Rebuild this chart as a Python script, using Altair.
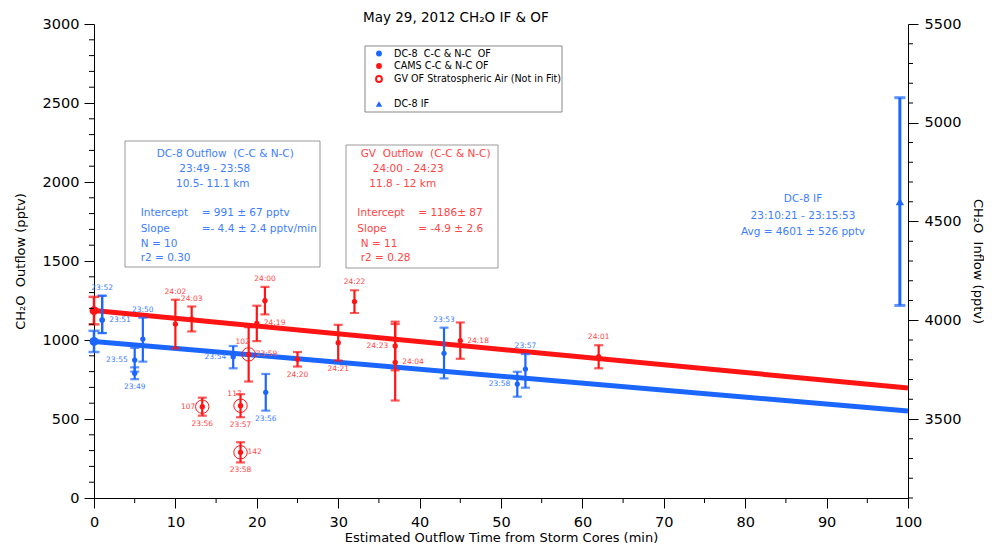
import altair as alt
import pandas as pd

# ---------------- data ----------------
dc8_labels = ["23:52", "23:51", "23:55", "23:49", "23:50", "23:54", "23:56", "23:53", "23:58", "23:57"]
dc8_time = [1, 1, 5, 5, 6, 17.1, 21.1, 43, 52, 53]
dc8_val = [1127, 1127, 873, 789, 1006, 894, 669, 916, 721, 816]
dc8_lo = [1044, 1044, 800, 752, 863, 821, 553, 757, 641, 698]
dc8_hi = [1280, 1280, 950, 827, 1141, 962, 785, 1078, 799, 911]
dc8_side = ["above", "right", "left", "below", "above", "left", "below", "above", "left", "above"]

gv_labels = ["24:02", "24:03", "24:00", "24:19", "24:20", "24:21", "24:22", "24:23", "24:04", "24:18", "24:01"]
gv_time = [10, 12, 21, 20, 25, 30, 32, 37, 37, 45, 62]
gv_val = [1101, 1133, 1249, 1105, 878, 983, 1243, 962, 859, 996, 894]
gv_err = [154, 79, 87, 112, 46, 113, 72, 154, 242, 115, 73]
gv_side = ["above", "above", "above", "right", "below", "below", "above", "left", "right", "right", "above"]

strat_labels = ["23:59", "23:56", "23:57", "23:58"]
strat_time = [19, 13.3, 18, 18]
strat_val = [909, 578, 584, 289]
strat_err = [172, 57, 73, 64]
strat_side = ["right", "below", "below", "below"]
strat_num = ["102", "107", "117", "142"]
strat_num_side = ["upleft", "left", "upleft", "right"]

fit_names = ["DC-8", "GV"]
fit_intercept = [991, 1186]
fit_int_err = [67, 87]
fit_slope = [-4.4, -4.9]
fit_x = [0, 100]

if_time = [99]
if_val = [4601]
if_err = [526]

legend_labels = ["DC-8  C-C & N-C  OF", "CAMS C-C & N-C OF", "GV OF Stratospheric Air (Not in Fit)", "DC-8 IF"]

# ---------------- styling ----------------
BLUE = "#1A66FF"
RED = "#FF1414"
BLUE_T = "#3D7EFF"
RED_T = "#FF4646"
FONT = "DejaVu Sans"
W, H = 814, 474
NB = "\u00a0"


def keep_spaces(s):
    return s.replace("  ", NB + NB)


xs = alt.Scale(domain=[0, 100], nice=False, zero=False)
ys = alt.Scale(domain=[0, 3000], nice=False, zero=False)
ys2 = alt.Scale(domain=[3100, 5500], nice=False, zero=False)

common_axis = dict(grid=False, domainColor="black", tickColor="black", labelColor="black",
                   titleColor="black", labelFont=FONT, titleFont=FONT, titleFontWeight="normal",
                   labelFontSize=14.5, titleFontSize=13, tickSize=10, domainWidth=1, tickWidth=1,
                   format="d", labelFlush=False, labelOverlap=False)

x_axis = alt.Axis(values=list(range(0, 101, 10)), title="Estimated Outflow Time from Storm Cores (min)",
                  labelPadding=7, titlePadding=3, orient="bottom", **common_axis)
y_axis = alt.Axis(values=list(range(0, 3001, 500)), title=keep_spaces("CH₂O  Outflow (pptv)"),
                  labelPadding=5, orient="left",
                  titleX=-74, titleY=H / 2, titleAngle=270, titleBaseline="middle", titleAlign="center",
                  **common_axis)
y2_axis = alt.Axis(values=list(range(3500, 5501, 500)), title=keep_spaces("CH₂O  Inflow (pptv)"),
                   orient="right",
                   labelPadding=6, titleX=69, titleY=H / 2, titleAngle=90, titleBaseline="middle",
                   titleAlign="center", **common_axis)


def X(field="t", axis=None):
    return alt.X(f"{field}:Q", scale=xs, axis=axis)


def Y(field="v", axis=None, scale=ys):
    return alt.Y(f"{field}:Q", scale=scale, axis=axis)


one = alt.Data(values=[{"a": 1}])


def txt(text, px, py, color, size=11, align="left"):
    return alt.Chart(one).mark_text(align=align, baseline="middle", font=FONT, fontSize=size,
                                    color=color).encode(x=alt.value(px), y=alt.value(py),
                                                        text=alt.value(keep_spaces(text)))


# ---------------- tables ----------------
dc8 = pd.DataFrame(dict(t=dc8_time, v=dc8_val, lo=dc8_lo, hi=dc8_hi, lab=dc8_labels, side=dc8_side))
gv = pd.DataFrame(dict(t=gv_time, v=gv_val, lab=gv_labels, side=gv_side))
gv["lo"] = [v - e for v, e in zip(gv_val, gv_err)]
gv["hi"] = [v + e for v, e in zip(gv_val, gv_err)]
st = pd.DataFrame(dict(t=strat_time, v=strat_val, lab=strat_labels, side=strat_side,
                       num=strat_num, nside=strat_num_side))
st["lo"] = [v - e for v, e in zip(strat_val, strat_err)]
st["hi"] = [v + e for v, e in zip(strat_val, strat_err)]

fit_rows = []
for n, b, m in zip(fit_names, fit_intercept, fit_slope):
    for x in fit_x:
        fit_rows.append(dict(name=n, t=x, v=b + m * x))
fit = pd.DataFrame(fit_rows)
icpt = pd.DataFrame(dict(name=fit_names, t=[0, 0], v=fit_intercept))
icpt["lo"] = [b - e for b, e in zip(fit_intercept, fit_int_err)]
icpt["hi"] = [b + e for b, e in zip(fit_intercept, fit_int_err)]

inf = pd.DataFrame(dict(t=if_time, v=if_val))
inf["lo"] = [v - e for v, e in zip(if_val, if_err)]
inf["hi"] = [v + e for v, e in zip(if_val, if_err)]

# ---------------- layers ----------------
layers = []

# regression lines (carry the x axis and the left y axis)
for n, col in zip(fit_names, [BLUE, RED]):
    ax = x_axis if n == fit_names[0] else None
    yax = y_axis if n == fit_names[0] else None
    layers.append(alt.Chart(fit[fit.name == n]).mark_line(color=col, strokeWidth=5)
                  .encode(x=X(axis=ax), y=Y(axis=yax)))

# right axis + inflow point
layers += [
    alt.Chart(inf).mark_rule(color=BLUE, strokeWidth=3).encode(x=X(), y=Y("lo", y2_axis, ys2), y2="hi:Q"),
    alt.Chart(inf).mark_tick(color=BLUE, orient="horizontal", size=11, thickness=3)
    .encode(x=X(), y=Y("lo", None, ys2)),
    alt.Chart(inf).mark_tick(color=BLUE, orient="horizontal", size=11, thickness=3)
    .encode(x=X(), y=Y("hi", None, ys2)),
    alt.Chart(inf).mark_point(shape="triangle-up", filled=True, color=BLUE, size=70, opacity=1)
    .encode(x=X(), y=Y("v", None, ys2)),
]


def errbars(df, col, width=2.2, cap=9, dot=28):
    return [
        alt.Chart(df).mark_rule(color=col, strokeWidth=width).encode(x=X(), y=Y("lo"), y2="hi:Q"),
        alt.Chart(df).mark_tick(color=col, orient="horizontal", size=cap, thickness=width)
        .encode(x=X(), y=Y("lo")),
        alt.Chart(df).mark_tick(color=col, orient="horizontal", size=cap, thickness=width)
        .encode(x=X(), y=Y("hi")),
        alt.Chart(df).mark_circle(color=col, opacity=1, size=dot).encode(x=X(), y=Y()),
    ]


layers += errbars(dc8, BLUE)
layers += errbars(gv, RED)
layers += errbars(st, RED)
layers.append(alt.Chart(st).mark_point(shape="circle", filled=False, color=RED, size=180,
                                       strokeWidth=1, opacity=1).encode(x=X(), y=Y()))
layers += errbars(icpt[icpt.name == "DC-8"], BLUE, width=2.5, cap=11, dot=80)
layers += errbars(icpt[icpt.name == "GV"], RED, width=2.5, cap=11, dot=80)


def point_labels(df, col, textfield="lab", sidefield="side"):
    out = []
    spec = {
        "above": dict(y="hi", dx=0, dy=-8, align="center"),
        "below": dict(y="lo", dx=0, dy=8, align="center"),
        "left": dict(y="v", dx=-7, dy=0, align="right"),
        "right": dict(y="v", dx=7, dy=0, align="left"),
        "upleft": dict(y="v", dx=-6, dy=-12, align="center"),
    }
    for side, s in spec.items():
        sub = df[df[sidefield] == side]
        if len(sub) == 0:
            continue
        out.append(alt.Chart(sub).mark_text(color=col, font=FONT, fontSize=7.5, align=s["align"],
                                            baseline="middle", dx=s["dx"], dy=s["dy"])
                   .encode(x=X(), y=Y(s["y"]), text=f"{textfield}:N"))
    return out


layers += point_labels(dc8, BLUE_T)
layers += point_labels(gv, RED_T)
layers += point_labels(st, RED_T)
layers += point_labels(st, RED_T, "num", "nside")

# minor ticks (left, bottom, right)
ly_minor = pd.DataFrame(dict(v=[v for v in range(0, 3001, 100) if v % 500]))
ry_minor = pd.DataFrame(dict(v=[v for v in range(3100, 5501, 100) if v % 500]))
x_minor = pd.DataFrame(dict(t=[v for v in range(5, 100, 10)]))
layers.append(alt.Chart(ly_minor).mark_rule(color="black", strokeWidth=1)
              .encode(y=Y(), x=alt.value(-5), x2=alt.value(0)))
layers.append(alt.Chart(ry_minor).mark_rule(color="black", strokeWidth=1)
              .encode(y=Y("v", None, ys2), x=alt.value(W), x2=alt.value(W + 5)))
layers.append(alt.Chart(x_minor).mark_rule(color="black", strokeWidth=1)
              .encode(x=X(), y=alt.value(H), y2=alt.value(H + 5)))

# legend box
layers.append(alt.Chart(one).mark_rect(fill="white", stroke="#888", strokeWidth=1)
              .encode(x=alt.value(271), x2=alt.value(468), y=alt.value(22), y2=alt.value(88)))
leg_y = [29.5, 42, 55, 80]
leg_col = [BLUE, RED, RED, BLUE]
for i, (lab, ly, lc) in enumerate(zip(legend_labels, leg_y, leg_col)):
    if i == 2:
        sym = alt.Chart(one).mark_point(shape="circle", filled=False, color=lc, size=34, opacity=1)
    elif i == 3:
        sym = alt.Chart(one).mark_point(shape="triangle-up", filled=True, color=lc, size=42, opacity=1)
    else:
        sym = alt.Chart(one).mark_point(shape="circle", filled=True, color=lc, size=34, opacity=1)
    layers.append(sym.encode(x=alt.value(285), y=alt.value(ly)))
    layers.append(txt(lab, 300, ly, "black", size=9.6))

# text boxes
layers.append(alt.Chart(one).mark_rect(fill="white", stroke="#999", strokeWidth=1)
              .encode(x=alt.value(31), x2=alt.value(226), y=alt.value(117), y2=alt.value(243)))
layers.append(alt.Chart(one).mark_rect(fill="white", stroke="#999", strokeWidth=1)
              .encode(x=alt.value(252), x2=alt.value(404), y=alt.value(121), y2=alt.value(244)))
blue_box = [("DC-8 Outflow  (C-C & N-C)", 62.7, 130), ("23:49 - 23:58", 85.3, 145),
            ("10.5- 11.1 km", 82, 160), ("Intercept", 46.7, 189), ("= 991 ± 67 pptv", 107.7, 189),
            ("Slope", 46.7, 205), ("=- 4.4 ± 2.4 pptv/min", 107.7, 205), ("N = 10", 46.7, 220),
            ("r2 = 0.30", 46.7, 234)]
red_box = [("GV  Outflow  (C-C & N-C)", 266.7, 130), ("24:00 - 24:23", 278.7, 145),
           ("11.8 - 12 km", 275.3, 160), ("Intercept", 263.3, 189), ("= 1186± 87", 324.3, 189),
           ("Slope", 263.3, 205), ("= -4.9 ± 2.6", 324.3, 205), ("N = 11", 266.7, 220),
           ("r2 = 0.28", 266.7, 234)]
for t, px, py in blue_box:
    layers.append(txt(t, px, py, BLUE_T, size=10.5))
for t, px, py in red_box:
    layers.append(txt(t, px, py, RED_T, size=10.5))

# inflow annotation + title
for t, py in [("DC-8 IF", 175), ("23:10:21 - 23:15:53", 192), ("Avg = 4601 ± 526 pptv", 208)]:
    layers.append(txt(t, 709, py, BLUE_T, size=10.5, align="center"))
layers.append(txt("May 29, 2012 CH₂O IF & OF", 269, -6, "black", size=13.5, align="left"))

chart = (alt.layer(*layers)
         .resolve_scale(x="independent", y="independent")
         .properties(width=W, height=H,
                     padding={"left": 86, "top": 16, "right": 76, "bottom": 49},
                     autosize=alt.AutoSizeParams(type="none"))
         .configure_view(stroke=None))

chart.save("out.html", embed_options={"renderer": "svg", "actions": False})
